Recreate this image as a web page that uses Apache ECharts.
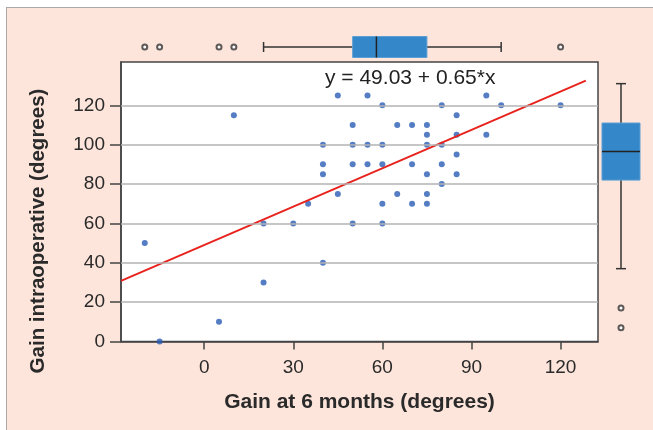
<!DOCTYPE html>
<html>
<head>
<meta charset="utf-8">
<script src="https://cdn.jsdelivr.net/npm/echarts@6/dist/echarts.min.js"></script>
<style>
  html, body { margin: 0; padding: 0; background: #fff; }
  #wrap { position: relative; width: 653px; height: 430px; overflow: hidden; }
  #frame { position: absolute; left: 6px; top: 7px; width: 700px; height: 480px;
           background: #fde5db; border-left: 1.5px solid #a8a8a8; border-top: 1.5px solid #a8a8a8; }
  #chart { position: absolute; left: 0; top: 0; width: 653px; height: 430px; }
</style>
</head>
<body>
<div id="wrap">
  <div id="frame"></div>
  <div id="chart"></div>
</div>
<script>
// --- data ---
const gain6m = [-20, -15, 5, 10, 20, 20, 30, 35, 40, 40, 40, 40, 45, 45, 50, 50, 50, 50,
  55, 55, 55, 60, 60, 60, 60, 60, 65, 65, 70, 70, 70, 75, 75, 75, 75, 75, 75,
  80, 80, 80, 80, 85, 85, 85, 85, 95, 95, 100, 120];
const gainIntraop = [50, 0, 10, 115, 60, 30, 60, 70, 100, 90, 85, 40, 125, 75, 110, 100, 90, 60,
  125, 100, 90, 120, 100, 90, 70, 60, 110, 75, 110, 90, 70, 110, 105, 100, 85, 75, 70,
  120, 100, 90, 80, 115, 105, 95, 85, 125, 105, 120, 120];

const xTicks = [0, 30, 60, 90, 120];
const yTicks = [0, 20, 40, 60, 80, 100, 120];

// regression y = a + b*x
const fitIntercept = 49.03;
const fitSlope = 0.65;
const fitRange = [-28, 128.5];

// boxplots [low whisker, Q1, median, Q3, high whisker]
const topBox = [20, 50, 58, 75, 100];
const topOutliers = [-20, -15, 5, 10, 120];
const rightBox = [37, 82, 96.5, 111, 131];
const rightOutliers = [17, 7];

const X_MIN = -28, X_MAX = 132.6, Y_MIN = 0, Y_MAX = 142;
const FONT = "'Liberation Sans', Arial, sans-serif";

const chart = echarts.init(document.getElementById('chart'), null, { renderer: 'canvas' });

function boxRenderer(horizontal, halfBox, halfCap) {
  return function (params, api) {
    const v = [1, 2, 3, 4, 5].map(i => api.value(i));
    const P = val => horizontal ? api.coord([val, 0]) : api.coord([0, val]);
    const p = v.map(P);
    const lineStyle = { stroke: '#333', lineWidth: 1.5 };
    const seg = (a, b, c, d, st) => ({ type: 'line', shape: { x1: a, y1: b, x2: c, y2: d }, style: st || lineStyle });
    const kids = [];
    if (horizontal) {
      const cy = p[0][1];
      kids.push(seg(p[0][0], cy, p[1][0], cy));
      kids.push(seg(p[3][0], cy, p[4][0], cy));
      kids.push(seg(p[0][0], cy - halfCap, p[0][0], cy + halfCap));
      kids.push(seg(p[4][0], cy - halfCap, p[4][0], cy + halfCap));
      kids.push({ type: 'rect', shape: { x: p[1][0], y: cy - halfBox, width: p[3][0] - p[1][0], height: 2 * halfBox },
        style: { fill: '#3487c8', stroke: '#5c9fd5', lineWidth: 1 } });
      kids.push(seg(p[2][0], cy - halfBox, p[2][0], cy + halfBox, { stroke: '#222', lineWidth: 1.5 }));
    } else {
      const cx = p[0][0];
      kids.push(seg(cx, p[0][1], cx, p[1][1]));
      kids.push(seg(cx, p[3][1], cx, p[4][1]));
      kids.push(seg(cx - halfCap, p[0][1], cx + halfCap, p[0][1]));
      kids.push(seg(cx - halfCap, p[4][1], cx + halfCap, p[4][1]));
      kids.push({ type: 'rect', shape: { x: cx - halfBox, y: p[3][1], width: 2 * halfBox, height: p[1][1] - p[3][1] },
        style: { fill: '#3487c8', stroke: '#5c9fd5', lineWidth: 1 } });
      kids.push(seg(cx - halfBox, p[2][1], cx + halfBox, p[2][1], { stroke: '#222', lineWidth: 1.5 }));
    }
    return { type: 'group', children: kids };
  };
}

const axisColor = '#444';

const option = {
  backgroundColor: 'transparent',
  animation: false,
  textStyle: { fontFamily: FONT },
  grid: [
    { left: 121, top: 62, width: 477, height: 279.5, show: true, backgroundColor: '#fff',
      borderColor: axisColor, borderWidth: 1.5 },
    { left: 121, top: 36, width: 477, height: 22 },
    { left: 601, top: 62, width: 40, height: 279.5 }
  ],
  xAxis: [
    { gridIndex: 0, type: 'value', min: X_MIN, max: X_MAX,
      name: 'Gain at 6 months (degrees)', nameLocation: 'middle', nameGap: 50,
      nameTextStyle: { fontSize: 21, fontWeight: 'bold', color: '#2a2a2a', fontFamily: FONT },
      axisLine: { show: true, onZero: false, lineStyle: { color: axisColor, width: 1.5 } },
      axisTick: { show: true, inside: false, length: 8, customValues: xTicks, lineStyle: { color: axisColor, width: 1.5 } },
      axisLabel: { customValues: xTicks, margin: 17, fontSize: 19, color: '#2a2a2a', fontFamily: FONT },
      splitLine: { show: false } },
    { gridIndex: 1, type: 'value', min: X_MIN, max: X_MAX, show: false },
    { gridIndex: 2, type: 'category', data: ['y'], show: false }
  ],
  yAxis: [
    { gridIndex: 0, type: 'value', min: Y_MIN, max: Y_MAX,
      axisLine: { show: true, onZero: false, lineStyle: { color: axisColor, width: 1.5 } },
      axisTick: { show: true, inside: false, length: 11, customValues: yTicks, lineStyle: { color: axisColor, width: 1.5 } },
      axisLabel: { customValues: yTicks, margin: 16, fontSize: 19, color: '#2a2a2a', fontFamily: FONT },
      splitLine: { show: false } },
    { gridIndex: 1, type: 'category', data: ['x'], show: false },
    { gridIndex: 2, type: 'value', min: Y_MIN, max: Y_MAX, show: false }
  ],
  graphic: [
    { type: 'text', z: 100, style: { x: 325, y: 78, text: 'y = 49.03 + 0.65*x', font: '21px ' + FONT,
      fill: '#222', align: 'left', verticalAlign: 'middle' } },
    { type: 'text', z: 100, x: 38, y: 231, rotation: Math.PI / 2,
      style: { x: 0, y: 0, text: 'Gain intraoperative (degrees)', font: 'bold 20.5px ' + FONT,
        fill: '#2a2a2a', align: 'center', verticalAlign: 'middle' } }
  ],
  series: [
    // horizontal gridlines
    { type: 'line', xAxisIndex: 0, yAxisIndex: 0, data: [], z: 1, silent: true,
      markLine: { silent: true, symbol: 'none', label: { show: false },
        lineStyle: { color: '#b3b3b3', width: 1.6, type: 'solid' },
        data: yTicks.filter(v => v > 0).map(v => ({ yAxis: v })) } },
    { type: 'scatter', xAxisIndex: 0, yAxisIndex: 0, z: 3, symbolSize: 6,
      itemStyle: { color: '#2a5db5' },
      data: gain6m.map((x, i) => [x, gainIntraop[i]]) },
    { type: 'line', xAxisIndex: 0, yAxisIndex: 0, z: 4, symbol: 'none',
      lineStyle: { color: '#e8231d', width: 2 },
      data: fitRange.map(x => [x, fitIntercept + fitSlope * x]) },
    // top boxplot (gain at 6 months)
    { type: 'custom', xAxisIndex: 1, yAxisIndex: 1, renderItem: boxRenderer(true, 10.5, 5),
      data: [[0].concat(topBox)] },
    { type: 'scatter', xAxisIndex: 1, yAxisIndex: 1, symbol: 'emptyCircle', symbolSize: 5,
      itemStyle: { color: '#333', borderWidth: 1.3 },
      data: topOutliers.map(v => [v, 0]) },
    // right boxplot (gain intraoperative)
    { type: 'custom', xAxisIndex: 2, yAxisIndex: 2, renderItem: boxRenderer(false, 19, 5),
      data: [[0].concat(rightBox)] },
    { type: 'scatter', xAxisIndex: 2, yAxisIndex: 2, symbol: 'emptyCircle', symbolSize: 5,
      itemStyle: { color: '#333', borderWidth: 1.3 },
      data: rightOutliers.map(v => [0, v]) }
  ]
};

chart.setOption(option);
</script>
</body>
</html>
